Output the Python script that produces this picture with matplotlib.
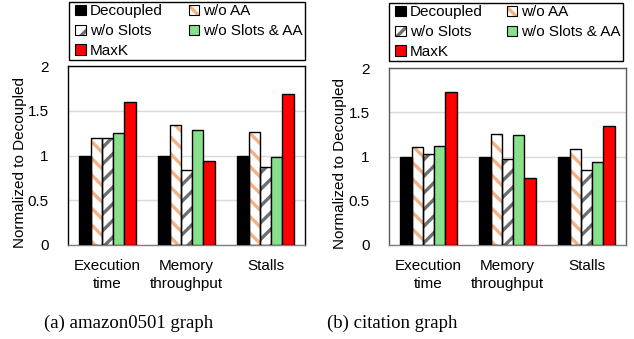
import matplotlib
matplotlib.use("Agg")
import matplotlib.pyplot as plt
from matplotlib.patches import Rectangle
from matplotlib.legend_handler import HandlerTuple
import numpy as np

plt.rcParams['font.family'] = ['Liberation Sans', 'DejaVu Sans']
plt.rcParams['hatch.linewidth'] = 2.4

# data
categories = ["Execution\ntime", "Memory\nthroughput", "Stalls"]
series = ["Decoupled", "w/o AA", "w/o Slots", "w/o Slots & AA", "MaxK"]

amazon_decoupled = [1.00, 1.00, 1.00]
amazon_no_aa = [1.19, 1.34, 1.26]
amazon_no_slots = [1.19, 0.84, 0.875]
amazon_no_slots_aa = [1.25, 1.28, 0.98]
amazon_maxk = [1.60, 0.94, 1.69]

citation_decoupled = [1.00, 0.99, 0.99]
citation_no_aa = [1.11, 1.25, 1.08]
citation_no_slots = [1.03, 0.97, 0.85]
citation_no_slots_aa = [1.12, 1.24, 0.94]
citation_maxk = [1.73, 0.76, 1.35]

# style per series: face, hatch, hatch colour
styles = [
    ("black", None, None),
    ("white", "\\\\", "#F4B183"),
    ("white", "//", "#6E6E6E"),
    ("#88E08C", None, None),
    ("#FF0000", None, None),
]

W, H = 634, 339
fig = plt.figure(figsize=(W / 100, H / 100), dpi=100)


def px_axes(x0, y0, x1, y1):
    return [x0 / W, 1 - y1 / H, (x1 - x0) / W, (y1 - y0) / H]


def draw_panel(rect, legend_rect, values, frame_color, caption, cap_x, ylab_x):
    ax = fig.add_axes(px_axes(*rect))
    x = np.arange(len(categories))
    bw = 0.142
    handles = []
    for i, (vals, (face, hatch, hcol)) in enumerate(zip(values, styles)):
        pos = x + (i - 2) * bw
        if hatch:
            # hatch drawn in its own colour, outline added on top
            ax.bar(pos, vals, bw, color=face, hatch=hatch, edgecolor=hcol, linewidth=0, zorder=2)
            ax.bar(pos, vals, bw, fill=False, edgecolor="black", linewidth=1.0, zorder=3)
            h = (Rectangle((0, 0), 1, 1, facecolor=face, hatch=hatch, edgecolor=hcol, linewidth=0),
                 Rectangle((0, 0), 1, 1, fill=False, edgecolor="black", linewidth=0.8))
        else:
            ax.bar(pos, vals, bw, color=face, edgecolor="black", linewidth=1.0, zorder=3)
            h = Rectangle((0, 0), 1, 1, facecolor=face, edgecolor="black", linewidth=0.8)
        handles.append(h)

    ax.set_ylim(0, 2)
    ax.set_xlim(-0.5, 2.5)
    ax.set_yticks([0, 0.5, 1, 1.5, 2])
    ax.set_yticklabels(["0", "0.5", "1", "1.5", "2"], fontsize=11)
    ax.set_xticks(x)
    ax.set_xticklabels(categories, fontsize=11, linespacing=1.35)
    ax.tick_params(axis="x", length=0, pad=10)
    ax.tick_params(axis="y", length=0, pad=14)
    ax.yaxis.grid(True, color="#D9D9D9", linewidth=1, zorder=0)
    ax.set_axisbelow(True)
    for s in ax.spines.values():
        s.set_color(frame_color)
        s.set_linewidth(1.0)
    ax.spines["bottom"].set_color("#7F7F7F")
    ax.set_ylabel("Normalized to Decoupled", fontsize=11)
    ax.yaxis.set_label_coords(ylab_x, 0.46)

    # legend: frame drawn separately so the entries can be inset
    lx0, ly0, lx1, ly1 = legend_rect
    fig.patches.append(Rectangle((lx0 / W, 1 - ly1 / H), (lx1 - lx0) / W, (ly1 - ly0) / H,
                                 transform=fig.transFigure, fill=False,
                                 edgecolor="black", linewidth=1.0))
    order = [0, 2, 4, 1, 3]
    fig.legend([handles[k] for k in order], [series[k] for k in order],
               loc="upper left",
               bbox_to_anchor=((lx0 + 4) / W, 1 - ly1 / H, (lx1 - lx0 - 4) / W, (ly1 - ly0) / H),
               mode="expand", ncol=2, fontsize=11, frameon=False,
               handler_map={tuple: HandlerTuple(ndivide=1)},
               handlelength=0.7, handleheight=0.7, handletextpad=0.25,
               borderpad=0.16, labelspacing=0.38, borderaxespad=0, columnspacing=0.8)

    fig.text(cap_x / W, 1 - 323 / H, caption, ha="center", va="center",
             fontsize=13.5, family=["Liberation Serif", "DejaVu Serif"])


draw_panel((68, 66, 305, 245), (69, 2, 305, 60),
           [amazon_decoupled, amazon_no_aa, amazon_no_slots, amazon_no_slots_aa, amazon_maxk],
           "black", "(a) amazon0501 graph", 129, -0.173)
draw_panel((389, 68, 626, 245), (389, 3, 623, 61),
           [citation_decoupled, citation_no_aa, citation_no_slots, citation_no_slots_aa, citation_maxk],
           "#595959", "(b) citation graph", 392, -0.177)

fig.savefig("out.png", dpi=100)
